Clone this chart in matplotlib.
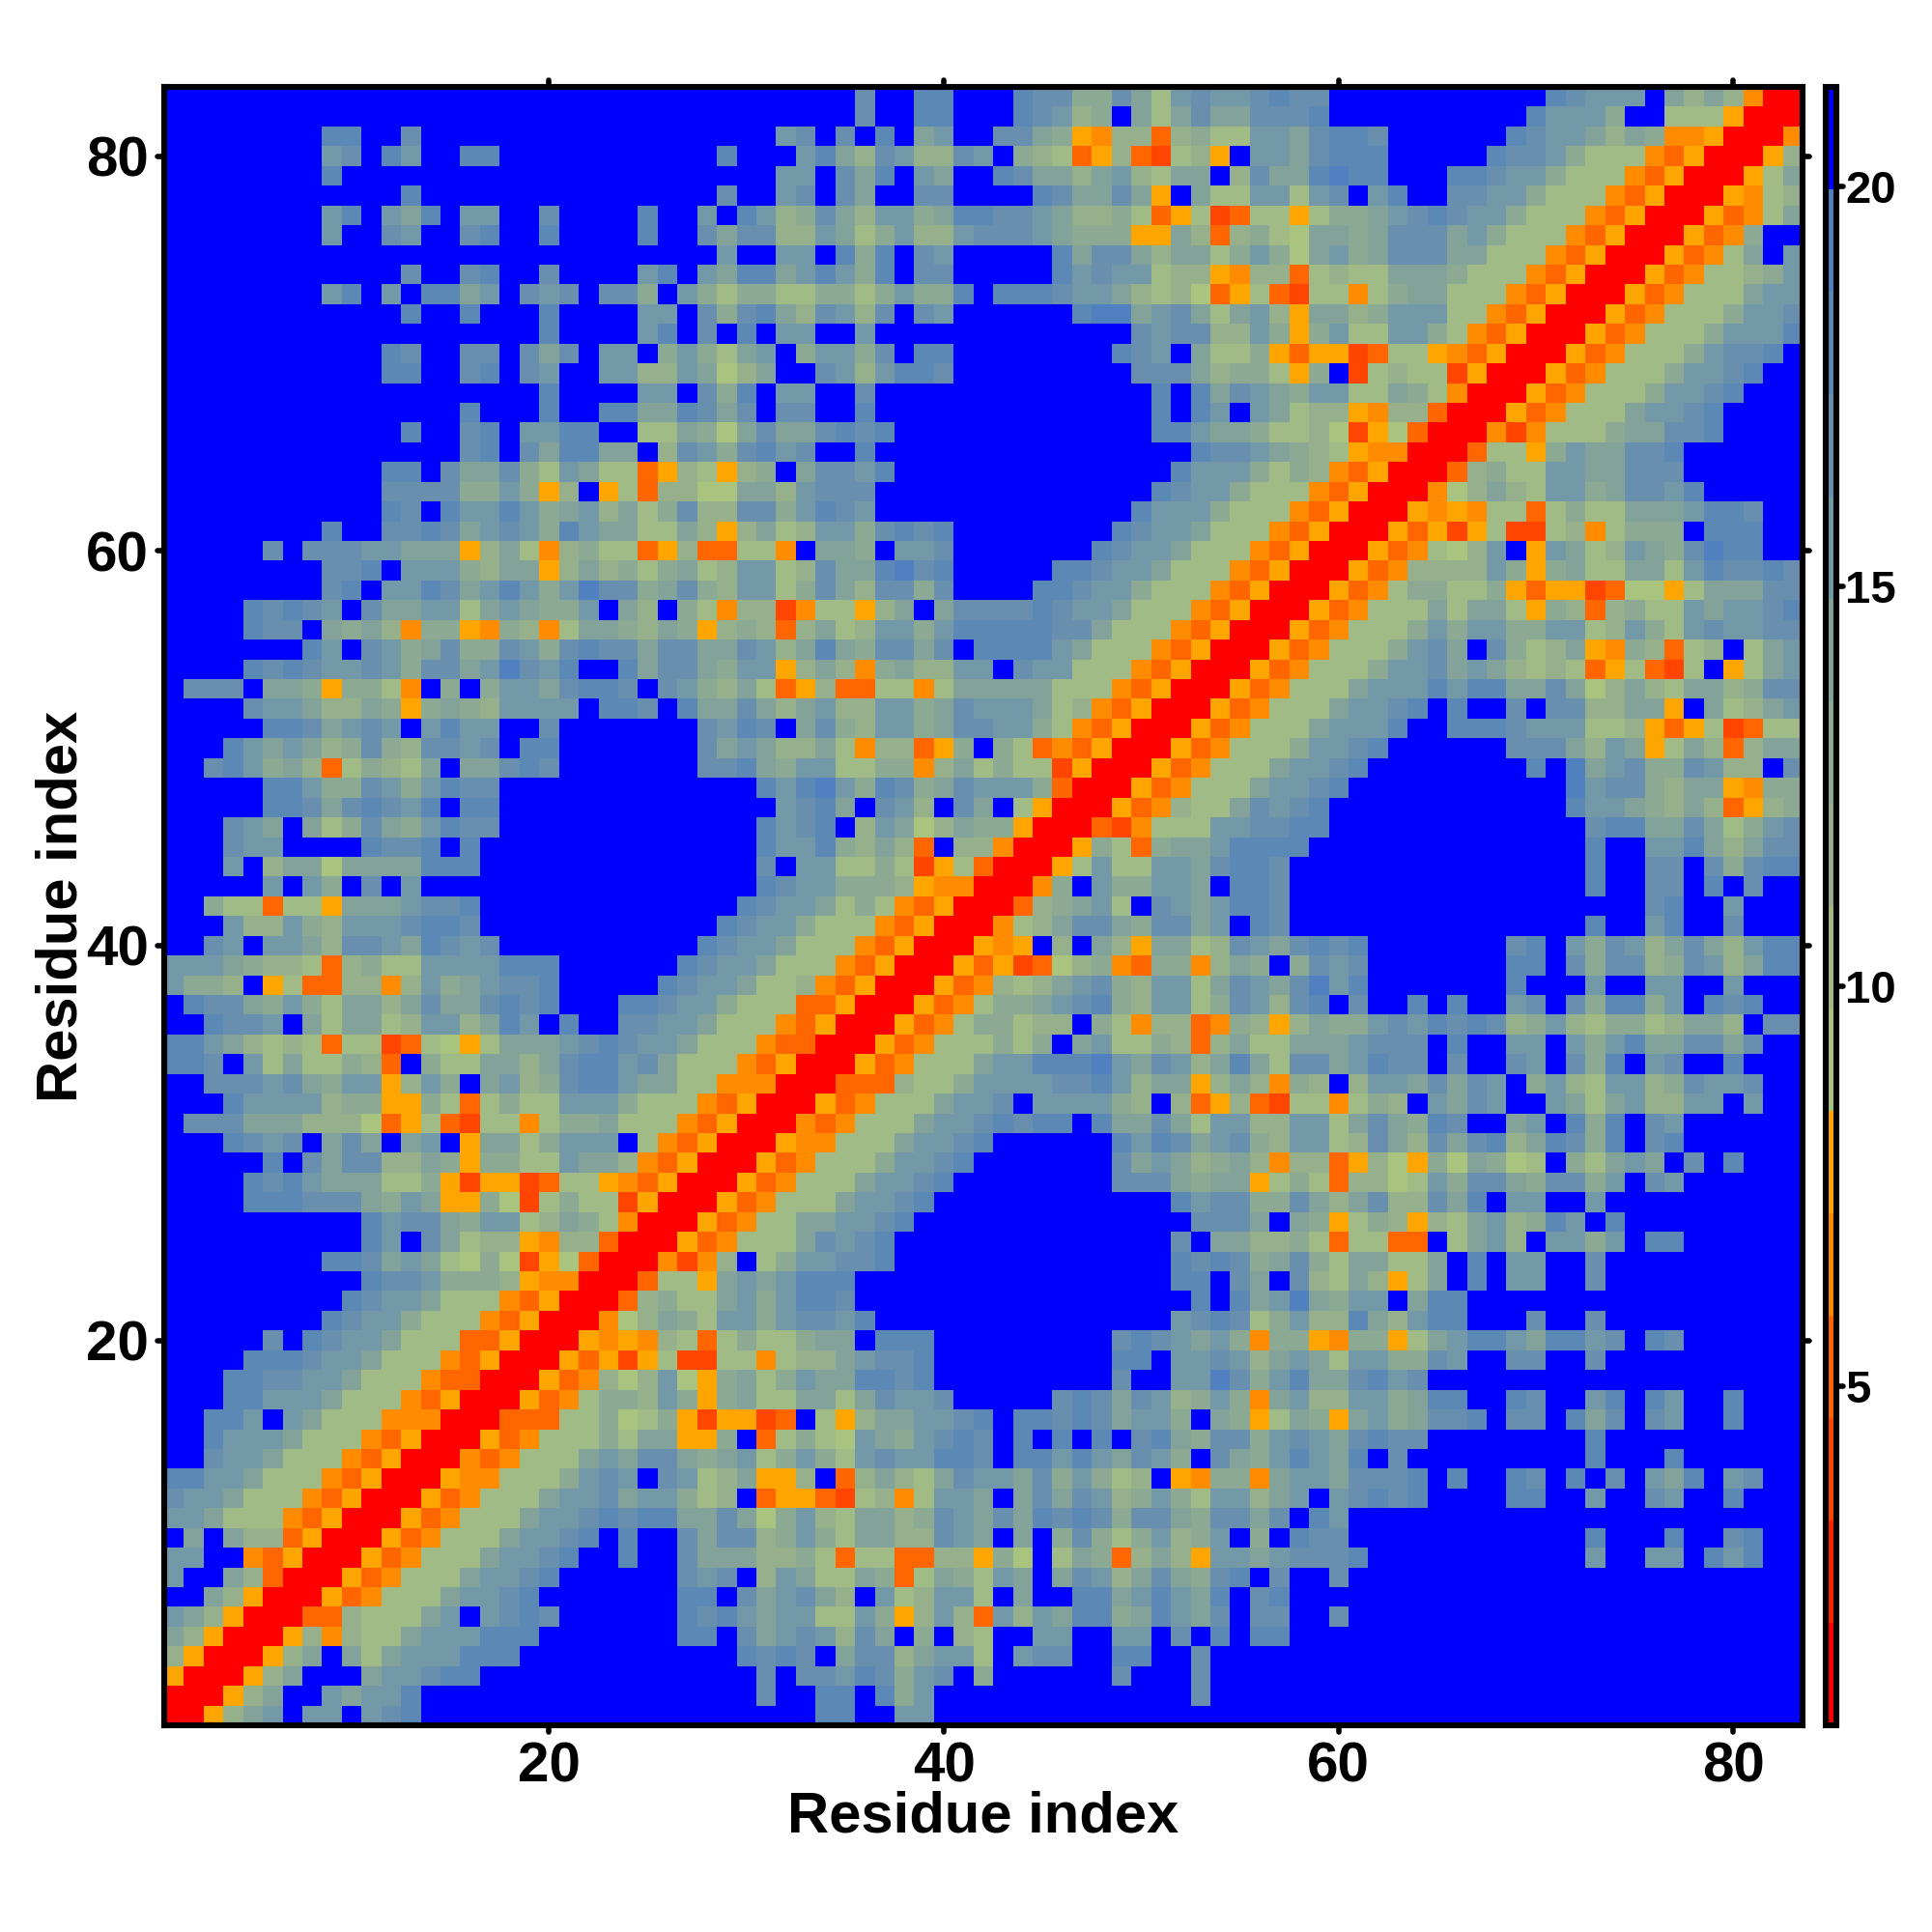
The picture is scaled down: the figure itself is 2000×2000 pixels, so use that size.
import numpy as np
import matplotlib
matplotlib.use("Agg")
import matplotlib.pyplot as plt
from matplotlib.colors import ListedColormap, BoundaryNorm
from matplotlib.markers import MarkerStyle, TICKLEFT, TICKRIGHT, TICKUP, TICKDOWN

plt.rcParams['font.family'] = ['Liberation Sans', 'DejaVu Sans']
plt.rcParams['font.weight'] = 'bold'

# distance map is symmetric, so only row >= column is kept
# first string is residue 83, last is residue 1, grouped in tens of columns
# . is blue, 1-9 green to steel blue, y o d e r orange to red
map_rows = [
    ".......... .......... .......... .....7..88 ...8774475 267667877. .......... 87666.5353 orr",
    ".......... .......... .......... .....7..88 ...87634.5 257557778. .........8 6664..222y rr",
    "........88 ..7....... .......... .67.7.8.56 ..7754yo33 d342266578 87......87 665354ooyr r",
    "........67 .86..88... ........8. ..68537633 76.432dy3d e23y.66578 88.....877 64222odyrr",
    "........8. .......... .......... .66.758.65 ..87553563 255.375589 88...88766 4222odyrr",
    ".......... ..8....... ........7. .67.75..77 ....875575 y.52266267 .68..77664 222odyrr",
    "........68 .658.66..7 ....8..6.8 6347536645 8877653342 dy2ed22y24 4567876642 22odyrr",
    "........6. .76..78..8 ....8..757 7336524633 677765444y y53d342155 4577756422 2odyrr",
    ".......... .......... ........6. .66.848.76 .....85775 3552464156 4577755222 odyrr",
    ".......... ..7..78..7 ....68.658 8568648.77 .....86766 233yo33d23 225554222o dyrr",
    "........68 .6.8856.76 7.774.6424 4224424644 8.88876653 231dy2de22 o2455222od yrr",
    ".......... ..8..8...8 ....66.747 8537637.76 ......8995 6752563y55 3466622ody rr",
    ".......... .........8 ....68.7.8 .66..6.... .........7 6773364y46 226642odyr r",
    ".......... .87..77.75 7.66.46425 6.46647.88 ........87 6.5224ydyy ed22yodyrr",
    ".......... .88..78.76 ..66336513 5..7636887 .........7 7753442y4. e2322eyrr",
    ".......... .........8 ....66.748 .66..7.... .......... 8.85765466 22542orr",
    ".......... .....8...8 ..88558757 .77..8.... .......... 8.86.65233 yo33drr",
    ".......... ..8..78.66 88..225415 7557878... .......... 8865542231 ey1drr",
    ".......... .....78.75 8855.37647 867..8.... .......... ..87765432 yoorr",
    ".......... .88.755742 6522dy32y3 4.57768... .......... .86664243o dyrr",
    ".......... .77774464y 3.y2d33115 536777.... .......... 87664222od yrr",
    ".......... .87.866864 5635247337 746876.... .........8 6664222ody rr",
    "........8. .778756764 86552253y3 5236647878 ........87 665222odyr r",
    ".....7.777 66555y352o 3422dy3dd2 2o.554.667 .......876 65222odyrr",
    "........77 8.6664355y 3534245236 6237558978 .....88766 5222odyrr",
    "........78 .668756864 6977457436 6247537747 ....887664 222odyrr",
    "....87876. 7556625654 46.53.42o3 3eo22y35.5 7777876652 22odyrr",
    "....877.54 53o44yo43o 2554354y34 3d35236646 8888877522 2odyrr",
    ".......86. 7645744764 7877577557 6358547757 .888865222 odyrr",
    "....878766 7647756976 8..8577546 6y353o4533 66.766222o dyrr",
    ".777.554y4 42o.4.4665 7887.76435 2dy3dd22o2 55555222od yrr",
    "....766533 54y4543666 6.887.8557 5356336645 7666523ody rr",
    ".....88756 76.6866..7 .......768 7.57436645 776642odyr r",
    "...8656534 7437767.88 .......756 53352o33dy 4.42dodyrr",
    "..786453d2 4325.55787 .......778 54662244o3 52422eyrr",
    ".....88644 7646877... .......... 8689648745 76664drr",
    ".....88757 8768.88... .......... .6785.763. 75.2yrr",
    "...765.524 7546877... .......... 8678.36513 544yrr",
    "...766.... 8778.8.... .......... 86684353d. 33orr",
    "...6.35515 555888.... .......... 7.662242ey 2drr",
    ".....6.64. 7.6....... .......... 87664443yo orr",
    "..422d22y5 556778.... .........8 7665242ody rr",
    "...6336436 667887.... ........87 664222odyr r",
    "..76.66537 7658767... .......876 65222odyrr",
    "66654332d3 4226666888 ......8766 5222odyrr",
    "6443.y2dd3 3o36456778 .....87665 223odyrr",
    ".877546425 5357557878 ...8876642 22ddyrr",
    "..8776.525 523663586. 8..7766522 2odyrr",
    "88653232d2 2ed21y2555 6787665222 oddrr",
    "887.625224 3d.4225535 788675222o dyrr",
    "..77767546 6y364.5634 78865522oo orr",
    "...8666634 4yy42d2422 6664222ody rr",
    ".777555333 1dy2de22o2 445222odyr r",
    "...8767.57 5.56.y5524 666.2odyrr",
    ".....8.757 73354y4422 6553odyrr",
    "....878655 5224yeyyed 22yodyrr",
    "....888777 5465yy41e2 422eyrr",
    ".......... 8677546623 542orr",
    ".......... 86.75233yo 33drr",
    "........88 75652141ey 1drr",
    ".......... 87764443yo orr",
    ".........8 7665222ody rr",
    "........87 664222odyr r",
    ".....7.876 65222ddyrr",
    "....888766 5222odyrr",
    "...8877665 222oddrr",
    "...8866652 22odyrr",
    "..886.6522 2ooorr",
    "..86665222 odyrr",
    "..7665222o dyrr",
    "88665222od yrr",
    "7665222ody rr",
    "665222odyr r",
    ".5.533dyrr",
    "66..odyrr",
    "6..53drr",
    "..53yrr",
    "653yrr",
    "53yrr",
    "3yrr",
    "yrr",
    "rr",
    "r",
]

level_values = {
    'r': 1.4, 'e': 4.0, 'd': 5.2, 'o': 6.5, 'y': 7.8,
    '1': 9.1, '2': 10.4, '3': 11.6, '4': 12.9, '5': 14.2,
    '6': 15.5, '7': 16.8, '8': 18.0, '9': 19.3, '.': 20.6,
}

palette = [
    '#FF0000', '#FF2000', '#FF4500', '#FF6600', '#FF8C00', '#FFA500',
    '#A9C47F', '#A0BB85', '#96B08C', '#8CA993', '#82A29A',
    '#7398A8', '#6890AE', '#5C88B6', '#5080C0', '#0000FF',
]
color_edges = np.linspace(0.76, 21.24, 17)
ticks_main = [20, 40, 60, 80]
ticks_bar = [5, 10, 15, 20]

n = len(map_rows)
distances = np.zeros((n, n))
for i, row in enumerate(map_rows):
    row = row.replace(' ', '')
    res = n - i
    if len(row) != res:
        raise ValueError(f'row {res} has {len(row)} cells')
    for j, ch in enumerate(row):
        distances[res - 1, j] = level_values[ch]
        distances[j, res - 1] = level_values[ch]

W = 2000.0
fig = plt.figure(figsize=(10, 10), dpi=200)
ax = fig.add_axes([170 / W, 1 - 1786 / W, 1696 / W, 1696 / W])
cax = fig.add_axes([1890 / W, 1 - 1786 / W, 11 / W, 1696 / W])

cmap = ListedColormap(palette)
norm = BoundaryNorm(color_edges, cmap.N)
im = ax.imshow(distances, origin='lower', cmap=cmap, norm=norm,
               extent=(0.5, n + 0.5, 0.5, n + 0.5),
               interpolation='nearest', aspect='auto')

ax.set_xticks(ticks_main)
ax.set_yticks(ticks_main)
ax.tick_params(top=True, right=True, labelsize=21, length=2.4, width=2.0, pad=3.5)
ax.set_xlabel('Residue index', fontsize=21.5, fontweight='bold', labelpad=-1)
ax.set_ylabel('Residue index', fontsize=21.5, fontweight='bold', labelpad=-1)
for spine in ax.spines.values():
    spine.set_linewidth(2.2)

for tick in ax.xaxis.get_major_ticks():
    tick.tick1line.set_marker(MarkerStyle(TICKDOWN, capstyle='round'))
    tick.tick2line.set_marker(MarkerStyle(TICKUP, capstyle='round'))
for tick in ax.yaxis.get_major_ticks():
    tick.tick1line.set_marker(MarkerStyle(TICKLEFT, capstyle='round'))
    tick.tick2line.set_marker(MarkerStyle(TICKRIGHT, capstyle='round'))

cbar = fig.colorbar(im, cax=cax, ticks=ticks_bar, spacing='proportional')
cbar.ax.minorticks_off()
cbar.ax.tick_params(labelsize=17, length=2.4, width=2.0, pad=1)
cbar.ax.set_yticklabels([str(t) for t in ticks_bar])
cbar.outline.set_linewidth(2.2)
cbar.dividers.set_visible(False)
for tick in cbar.ax.yaxis.get_major_ticks():
    tick.tick2line.set_marker(MarkerStyle(TICKRIGHT, capstyle='round'))

fig.savefig('out.png', dpi=200)
